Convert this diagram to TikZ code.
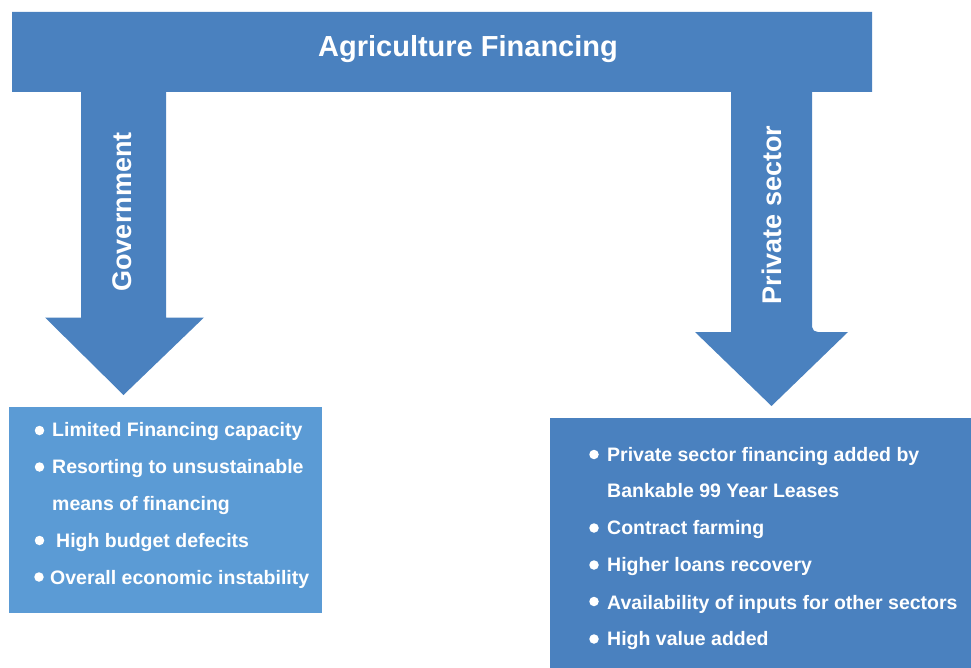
\documentclass[tikz,border=0pt]{standalone}
\usepackage{fontspec}
\setmainfont{Liberation Sans}
\definecolor{arrowblue}{RGB}{74,129,191}
\definecolor{leftblue}{RGB}{91,155,213}
\definecolor{rightblue}{RGB}{74,129,191}
\begin{document}
\begin{tikzpicture}[x=1pt,y=-1pt,
  txt/.style={inner sep=0pt,text=white,font=\bfseries\fontsize{19.5}{19.5}\selectfont,anchor=base west},
  bul/.style={circle,fill=white,inner sep=0pt,minimum size=9.5pt},
  lbl/.style={inner sep=0pt,text=white,font=\bfseries\fontsize{27}{27}\selectfont,rotate=90}]
\useasboundingbox (0,0) rectangle (971,668);
% top bar with the two arrows
\fill[arrowblue] (12,12) -- (872,12) -- (872,92) -- (812,92) -- (812,327)
  to[out=-90,in=180] (818,332) -- (848,332) -- (771.5,406) -- (695,332) -- (731,332)
  -- (731,92) -- (166,92) -- (166,317.5) -- (204,317.5) -- (123.5,395) -- (45,317.5)
  -- (81,317.5) -- (81,92) -- (12,92) -- cycle;
\node[inner sep=0pt,text=white,font=\bfseries\fontsize{29}{29}\selectfont,anchor=base] (title) at (468,57) {Agriculture Financing};
\node[lbl] (gov) at (122,212) {Government};
\node[lbl] (priv) at (772,215) {Private sector};
% boxes
\fill[leftblue] (9,407) rectangle (322,613);
\fill[rightblue] (550,418) rectangle (971,668);
% left list
\node[bul] (lb1) at (39.5,430.5) {};
\node[txt] (l1) at (52,436) {Limited Financing capacity};
\node[bul] (lb2) at (39.5,467) {};
\node[txt] (l2) at (52,473) {Resorting to unsustainable};
\node[txt] (l3) at (52,510) {means of financing};
\node[bul] (lb4) at (39.5,540.5) {};
\node[txt] (l4) at (56,547) {High budget defecits};
\node[bul] (lb5) at (39,577) {};
\node[txt] (l5) at (50,584) {Overall economic instability};
% right list
\node[bul] (rb1) at (594,454.5) {};
\node[txt] (r1) at (607,461) {Private sector financing added by};
\node[txt] (r2) at (607,497) {Bankable 99 Year Leases};
\node[bul] (rb3) at (594,528) {};
\node[txt] (r3) at (607,534) {Contract farming};
\node[bul] (rb4) at (594,565) {};
\node[txt] (r4) at (607,571) {Higher loans recovery};
\node[bul] (rb5) at (594,601.5) {};
\node[txt] (r5) at (607,609) {Availability of inputs for other sectors};
\node[bul] (rb6) at (594,639) {};
\node[txt] (r6) at (607,645) {High value added};
\end{tikzpicture}
\end{document}
